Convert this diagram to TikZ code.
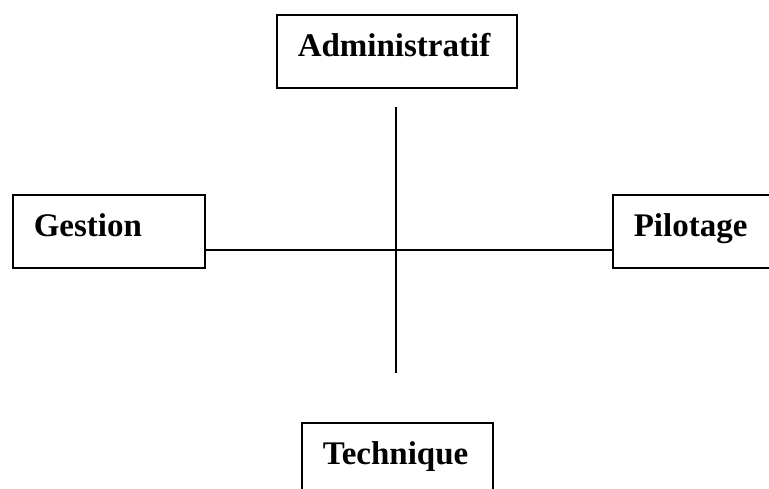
\documentclass[tikz,border=0pt]{standalone}
\usepackage{fontspec}
\setmainfont{Liberation Serif}
\usetikzlibrary{positioning}

\begin{document}
\begin{tikzpicture}
  [x=1pt, y=-1pt,
    BoxNode/.style={rectangle, draw=black, line width=1.6pt, anchor=north west,
      minimum height=73pt, inner xsep=21pt, inner ysep=0pt, align=left,
      text height=23pt, text depth=12pt,
      font=\fontsize{33}{39}\selectfont\bfseries},
    AxisLine/.style={draw=black, line width=1.6pt}]
  \useasboundingbox (0,0) rectangle (769,488);
  \clip (0,0) rectangle (769,488);
  \node [BoxNode, text width=198pt] (admin) at (276,14) {Administratif};
  \node [BoxNode, text width=150pt] (gestion) at (12,194) {Gestion};
  \node [BoxNode, text width=118pt] (pilotage) at (612,194) {Pilotage};
  \node [BoxNode, text width=149pt] (technique) at (301,422) {Technique};
  \coordinate (hmid) at (396,250);
  \coordinate (vtop) at (396,107);
  \coordinate (vbot) at (396,373);
  \draw [AxisLine] (gestion.east |- hmid) -- (pilotage.west |- hmid);
  \draw [AxisLine] (vtop) -- (vbot);
\end{tikzpicture}
\end{document}
